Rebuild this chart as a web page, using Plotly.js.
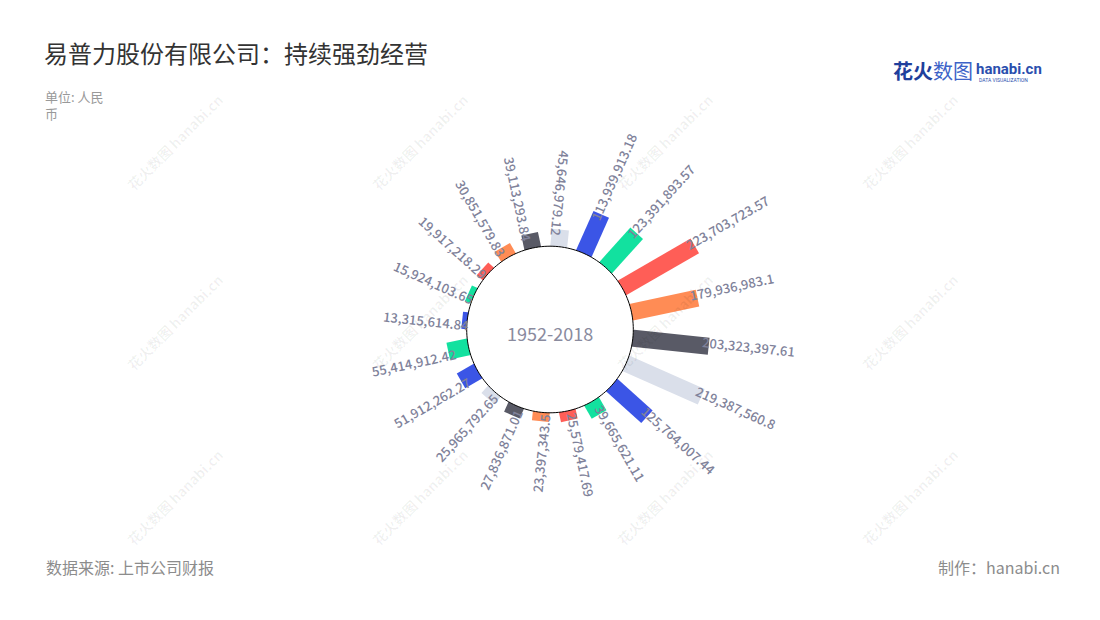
<!DOCTYPE html>
<html>
<head>
<meta charset="utf-8">
<script src="https://cdn.plot.ly/plotly-3.0.1.min.js"></script>
<style>html,body{margin:0;padding:0;background:#fff}#chart{width:1100px;height:620px}</style>
</head>
<body>
<div id="chart"></div>
<script>
// ---- data ----
const categories = ['01','02','03','04','05','06','07','08','09','10','11','12','13','14','15','16','17','18','19','20'];
const values = [13315614.84, 15924103.65, 19917218.29, 30851579.83, 39113293.84, 45646979.12,
                113939913.18, 123391893.57, 223703723.57, 179936983.1, 203323397.61, 219387560.8,
                125764007.44, 39665621.11, 25579417.69, 23397343.5, 27836871.01, 25965792.65,
                51912262.27, 55414912.42];
const palette = ['#3b55e6', '#12e19f', '#ff5e57', '#ff8c55', '#595a66', '#dadfea'];
const centerLabel = '1952-2018';
const titleText = '易普力股份有限公司：持续强劲经营';
const unitLines = ['单位: 人民', '币'];
const sourceText = '数据来源: 上市公司财报';
const creditText = '制作：hanabi.cn';

// ---- geometry ----
const W = 1100, H = 620;
const CX = 550, CY = 329.5, RPX = 250, HOLE_PX = 83.3;
const PX_PER_UNIT = 0.375 / 1e6;
const R0 = HOLE_PX / PX_PER_UNIT;
const RMAX = (RPX - HOLE_PX) / PX_PER_UNIT;
const ROT = 174;
const n = values.length;
const step = 360 / n;
const FONT = "'Noto Sans CJK SC', 'Noto Sans', sans-serif";

const fmt = v => v.toLocaleString('en-US', {maximumFractionDigits: 2});

const traces = [];
values.forEach((v, i) => {
  traces.push({
    type: 'scatterpolar', mode: 'lines',
    r: [-R0 * 0.25, v], theta: [i * step, i * step],
    name: categories[i],
    line: {color: palette[i % palette.length], width: 17},
    hoverinfo: 'skip', showlegend: false
  });
});
const circTheta = [], circR = [];
for (let a = 0; a <= 360; a += 2) { circTheta.push(a); circR.push(0); }
traces.push({
  type: 'scatterpolar', mode: 'lines', r: circR, theta: circTheta,
  fill: 'toself', fillcolor: '#ffffff', line: {color: '#000000', width: 1},
  hoverinfo: 'skip', showlegend: false
});

// text measuring
const cnv = document.createElement('canvas').getContext('2d');
cnv.font = "500 13px " + FONT;

const annotations = [];

// watermarks (drawn first, underneath other text)
[175, 420, 665, 910].forEach(wx => {
  [142, 322, 497].forEach(wy => {
    annotations.push({
      xref: 'paper', yref: 'paper', x: wx / W, y: 1 - wy / H,
      xanchor: 'center', yanchor: 'middle', showarrow: false,
      text: '<b>花火数图 hanabi.cn</b>', textangle: -45,
      font: {family: FONT, size: 14, color: 'rgba(0,0,0,0.06)'}
    });
  });
});

values.forEach((v, i) => {
  let h = (90 - ROT + i * step) % 360; if (h < 0) h += 360;
  const rad = h * Math.PI / 180;
  const label = fmt(v);
  const tw = cnv.measureText(label).width;
  const rEnd = HOLE_PX + v * PX_PER_UNIT;
  const rc = rEnd - 7 + tw / 2;
  const outward = (h >= 15 && h < 180);
  let ang = outward ? h - 90 : h + 90;
  while (ang > 180) ang -= 360;
  while (ang <= -180) ang += 360;
  const off = 4;
  const x = CX + rc * Math.sin(rad) - off * Math.cos(rad);
  const y = CY - rc * Math.cos(rad) - off * Math.sin(rad);
  annotations.push({
    xref: 'paper', yref: 'paper', x: x / W, y: 1 - y / H,
    xanchor: 'center', yanchor: 'middle', showarrow: false,
    text: label, textangle: ang,
    font: {family: FONT, size: 13, weight: 500, color: '#80829a'}
  });
});

annotations.push({
  xref: 'paper', yref: 'paper', x: CX / W, y: 1 - 333 / H,
  xanchor: 'center', yanchor: 'middle', showarrow: false,
  text: centerLabel, font: {family: FONT, size: 18, color: '#8a8b9e'}
});
unitLines.forEach((t, k) => {
  annotations.push({
    xref: 'paper', yref: 'paper', x: 44 / W, y: 1 - (96.5 + k * 17.5) / H,
    xanchor: 'left', yanchor: 'middle', showarrow: false, borderpad: 0,
    text: t, font: {family: FONT, size: 13, color: '#999999'}
  });
});
annotations.push({
  xref: 'paper', yref: 'paper', x: 44 / W, y: 1 - 567 / H,
  xanchor: 'left', yanchor: 'middle', showarrow: false,
  text: sourceText, font: {family: FONT, size: 16, color: '#8c8c8c'}
});
annotations.push({
  xref: 'paper', yref: 'paper', x: 1062 / W, y: 1 - 567 / H,
  xanchor: 'right', yanchor: 'middle', showarrow: false,
  text: creditText, font: {family: FONT, size: 16, color: '#8c8c8c'}
});
// logo
annotations.push({
  xref: 'paper', yref: 'paper', x: 891 / W, y: 1 - 71 / H,
  xanchor: 'left', yanchor: 'middle', showarrow: false,
  text: '<b>花火</b><span style="color:#3d63c8">数图</span>',
  font: {family: FONT, size: 20, color: '#1f3f9c'}
});
annotations.push({
  xref: 'paper', yref: 'paper', x: 974 / W, y: 1 - 69 / H,
  xanchor: 'left', yanchor: 'middle', showarrow: false,
  text: '<b>hanabi.cn</b>', font: {family: 'Roboto, sans-serif', size: 15, color: '#2b4fae'}
});
annotations.push({
  xref: 'paper', yref: 'paper', x: 977 / W, y: 1 - 80 / H,
  xanchor: 'left', yanchor: 'middle', showarrow: false,
  text: 'DATA VISUALIZATION', font: {family: 'Roboto, sans-serif', size: 5, color: '#2b4fae'}
});

const layout = {
  width: W, height: H,
  margin: {l: 0, r: 0, t: 0, b: 0},
  paper_bgcolor: '#ffffff',
  showlegend: false,
  title: {
    text: titleText, x: 44 / W, xanchor: 'left', xref: 'paper',
    y: 1 - 55 / H, yanchor: 'middle', yref: 'paper',
    font: {family: FONT, size: 24, color: '#333333'}
  },
  polar: {
    domain: {x: [(CX - RPX) / W, (CX + RPX) / W], y: [1 - (CY + RPX) / H, 1 - (CY - RPX) / H]},
    bgcolor: 'rgba(0,0,0,0)',
    hole: 0,
    radialaxis: {range: [-R0, RMAX], visible: false, showgrid: false, showline: false, showticklabels: false, ticks: ''},
    angularaxis: {visible: false, rotation: ROT, direction: 'clockwise', thetaunit: 'degrees',
                  showgrid: false, showline: false, showticklabels: false, ticks: ''}
  },
  annotations: annotations
};

Plotly.newPlot('chart', traces, layout, {displayModeBar: false, staticPlot: true});
</script>
</body>
</html>
